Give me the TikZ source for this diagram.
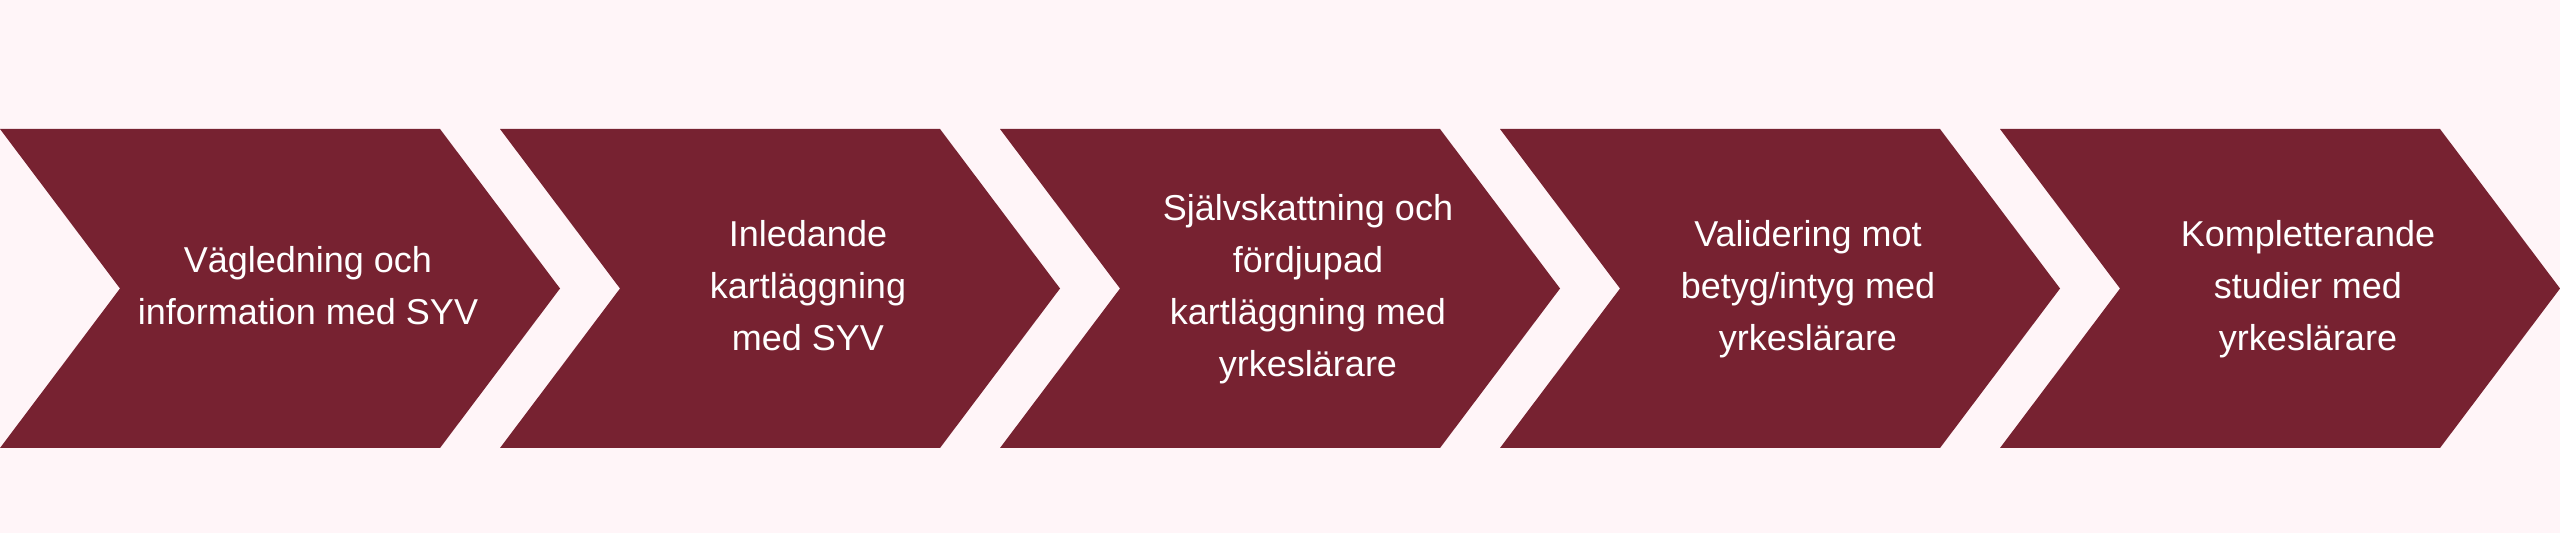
\documentclass[tikz,border=0pt]{standalone}
\usepackage{fontspec}
\setmainfont{Liberation Sans}
\definecolor{chevcol}{HTML}{772231}
\definecolor{bgcol}{HTML}{FFF5F8}
\begin{document}
\begin{tikzpicture}[x=1pt,y=1pt,
  chevron/.style={fill=chevcol},
  lbl/.style={text=white, align=center, inner sep=0pt,
    font=\fontsize{36}{52}\selectfont}]
\fill[bgcol] (0,0) rectangle (2560,533);
\useasboundingbox (0,0) rectangle (2560,533);
\foreach \i in {0,...,4}{
  \fill[chevron] (500*\i,404) -- ++(440,0) -- ++(120,-159.5) -- ++(-120,-159.5)
    -- ++(-440,0) -- ++(120,159.5) -- cycle;
}
\node[lbl] (s1) at (308,244.5) {\strut Vägledning och\\\strut information med SYV};
\node[lbl] (s2) at (808,244.5) {\strut Inledande\\\strut kartläggning\\\strut med SYV};
\node[lbl] (s3) at (1308,244.5) {\strut Självskattning och\\\strut fördjupad\\\strut kartläggning med\\\strut yrkeslärare};
\node[lbl] (s4) at (1808,244.5) {\strut Validering mot\\\strut betyg/intyg med\\\strut yrkeslärare};
\node[lbl] (s5) at (2308,244.5) {\strut Kompletterande\\\strut studier med\\\strut yrkeslärare};
\end{tikzpicture}
\end{document}
